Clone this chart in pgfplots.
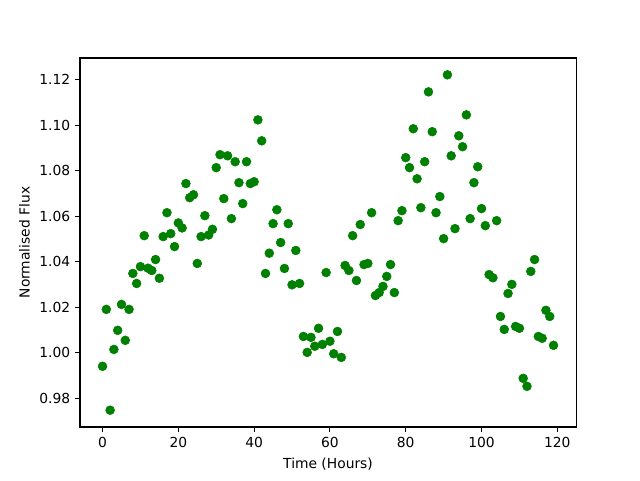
\documentclass[border=0pt]{standalone}
\usepackage{pgfplots}
\pgfplotsset{compat=1.18}
\usepackage{fontspec}
\setmainfont{DejaVu Sans}
\definecolor{mplgreen}{HTML}{008000}
\begin{document}
\begin{tikzpicture}[x=1pt,y=1pt]
\begin{axis}[
  scale only axis,
  width=358.5pt, height=266.7pt,
  at={(0pt,0pt)}, anchor=south west,
  xmin=-5.95, xmax=124.95,
  ymin=0.9673, ymax=1.1295,
  xtick={0,20,40,60,80,100,120},
  ytick={0.98,1.00,1.02,1.04,1.06,1.08,1.10,1.12},
  yticklabel style={/pgf/number format/.cd, fixed, fixed zerofill, precision=2},
  /pgf/number format/assume math mode=true,
  tick align=outside,
  major tick length=3.5pt,
  xtick pos=left, ytick pos=left,
  axis line style={line width=0.8pt},
  every tick/.style={line width=0.8pt, black},
  ticklabel style={font=\fontsize{10}{12}\selectfont},
  label style={font=\fontsize{10}{12}\selectfont},
  xlabel={Time (Hours)},
  ylabel={Normalised Flux},
  xlabel style={yshift=-1pt},
  ylabel style={yshift=0pt},
]
\addplot[only marks, mark=*, mark size=3.2pt, mplgreen, mark options={draw=mplgreen, fill=mplgreen}] coordinates {
(0,0.994) (1,1.019) (2,0.9747) (3,1.0014) (4,1.0098) (5,1.0212) (6,1.0054) (7,1.019) (8,1.0348) (9,1.0304)
(10,1.0378) (11,1.0514) (12,1.0371) (13,1.0361) (14,1.0409) (15,1.0327) (16,1.051) (17,1.0615) (18,1.0523) (19,1.0466)
(20,1.057) (21,1.0548) (22,1.0743) (23,1.0681) (24,1.0694) (25,1.0392) (26,1.051) (27,1.0602) (28,1.0517) (29,1.0542)
(30,1.0813) (31,1.087) (32,1.0677) (33,1.0865) (34,1.0589) (35,1.0839) (36,1.0747) (37,1.0655) (38,1.0839) (39,1.0743)
(40,1.0751) (41,1.1023) (42,1.0931) (43,1.0348) (44,1.0437) (45,1.0567) (46,1.0628) (47,1.0484) (48,1.037) (49,1.0567)
(50,1.0298) (51,1.0449) (52,1.0304) (53,1.0071) (54,1.0001) (55,1.0067) (56,1.0028) (57,1.0107) (58,1.0036) (59,1.0352)
(60,1.005) (61,0.9995) (62,1.0093) (63,0.9979) (64,1.0383) (65,1.0361) (66,1.0514) (67,1.0317) (68,1.0563) (69,1.0387)
(70,1.0392) (71,1.0615) (72,1.0251) (73,1.0264) (74,1.0291) (75,1.0335) (76,1.0387) (77,1.0264) (78,1.058) (79,1.0624)
(80,1.0857) (81,1.0813) (82,1.0984) (83,1.0764) (84,1.0637) (85,1.0839) (86,1.1146) (87,1.0971) (88,1.0615) (89,1.0686)
(90,1.0501) (91,1.1221) (92,1.0865) (93,1.0545) (94,1.0953) (95,1.0905) (96,1.1045) (97,1.0589) (98,1.0747) (99,1.0817)
(100,1.0633) (101,1.0558) (102,1.0343) (103,1.0329) (104,1.058) (105,1.0159) (106,1.0102) (107,1.026) (108,1.03) (109,1.0115)
(110,1.0107) (111,0.9887) (112,0.9852) (113,1.0357) (114,1.0409) (115,1.0071) (116,1.0063) (117,1.0186) (118,1.0159) (119,1.0032)
};
\end{axis}
\path (-57.8pt,-38.3pt) rectangle (404.7pt,308.6pt);
\end{tikzpicture}
\end{document}
